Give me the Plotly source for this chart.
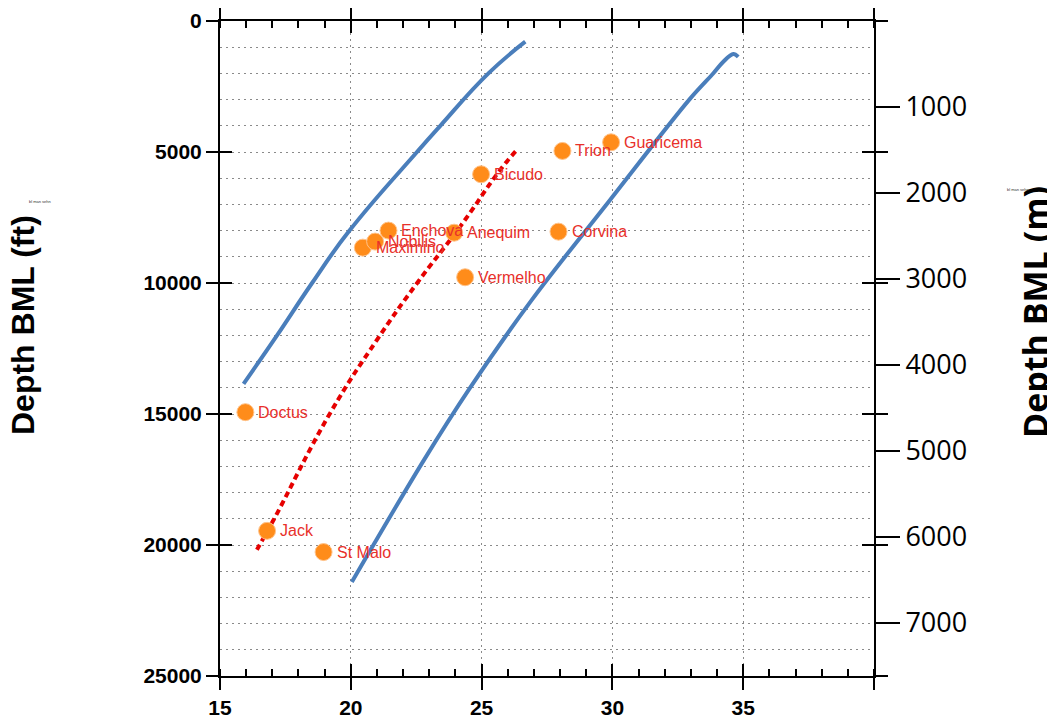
import plotly.graph_objects as go

# ---- data ----
field_names = ["Doctus", "Jack", "St Malo", "Maximino", "Nobilis", "Enchova",
               "Anequim", "Corvina", "Vermelho", "Bicudo", "Trion", "Guaricema"]
field_x = [15.97, 16.8, 18.96, 20.46, 20.93, 21.44, 23.95, 27.94, 24.37, 24.98, 28.09, 29.95]
field_depth_ft = [14930, 19460, 20270, 8650, 8420, 8000, 8080, 8040, 9780, 5850, 4960, 4630]

upper_x = [15.90, 17.18, 18.52, 19.95, 22.53, 23.42, 25.26, 26.67]
upper_y = [13850, 12000, 10000, 8000, 5000, 4000, 2000, 790]

lower_x = [20.04, 22.8, 24.55, 26.92, 29.91, 32.94, 33.86, 34.24, 34.62, 34.81]
lower_y = [21410, 16750, 14013, 10645, 6829, 3000, 1995, 1553, 1260, 1370]

trend_x = [16.41, 17.05, 19.21, 21.0, 22.53, 24.18, 25.71, 26.35]
trend_y = [20183, 19039, 14968, 12171, 10008, 7848, 5685, 4922]

x_tick_vals = [15, 20, 25, 30, 35, 40]
x_tick_text = ["15", "20", "25", "30", "35", ""]
meter_ticks = [1000, 2000, 3000, 4000, 5000, 6000, 7000]
FT_PER_M = 3.28084
X_RANGE = [15, 40]
Y_RANGE_FT = [25000, 0]

BLUE = "#4a7ebb"
RED = "#e60000"
ORANGE = "#ff8c1a"
LABEL_RED = "#e8302a"
GRID = "#8a8a8a"
GRID_DASH = "2px,4px"
ARIAL = "Liberation Sans, Arial, sans-serif"
SANS = "Open Sans, sans-serif"

fig = go.Figure()
fig.add_trace(go.Scatter(x=upper_x, y=upper_y, mode="lines",
                         line=dict(color=BLUE, width=4, shape="spline", smoothing=1.3),
                         hoverinfo="skip"))
fig.add_trace(go.Scatter(x=lower_x, y=lower_y, mode="lines",
                         line=dict(color=BLUE, width=4, shape="spline", smoothing=1.0),
                         hoverinfo="skip"))
fig.add_trace(go.Scatter(x=trend_x, y=trend_y, mode="lines",
                         line=dict(color=RED, width=4, dash="6px,4px", shape="spline", smoothing=1.3),
                         hoverinfo="skip"))
fig.add_trace(go.Scatter(x=field_x, y=field_depth_ft, mode="markers",
                         marker=dict(color=ORANGE, size=17, line=dict(color="#ffc38a", width=1)),
                         text=field_names, hoverinfo="text"))
# dummy traces so the overlay axes are drawn
fig.add_trace(go.Scatter(x=[None], y=[None], yaxis="y2", hoverinfo="skip"))
fig.add_trace(go.Scatter(x=[None], y=[None], xaxis="x3", yaxis="y3", hoverinfo="skip"))

annotations = []
for n, xv, yv in zip(field_names, field_x, field_depth_ft):
    annotations.append(dict(x=xv, y=yv, xref="x", yref="y", text=n, showarrow=False,
                            xanchor="left", yanchor="middle", xshift=11,
                            font=dict(family=ARIAL, size=16, color=LABEL_RED)))

# page offset of the figure (body margin) is 8px; plot area in page pixels:
L, R, T, B = 220, 874, 21, 676
OFF = 8
FIG_W, FIG_H = 1055 - OFF, 718 - OFF
def px(xp):
    return (xp - L) / (R - L)
def py(yp):
    return (B - yp) / (B - T)

annotations += [
    dict(x=px(23), y=py(325), xref="paper", yref="paper", text="Depth BML (ft)",
         showarrow=False, textangle=-90, xanchor="center", yanchor="middle",
         font=dict(family=ARIAL, size=32, color="black", weight="bold")),
    dict(x=px(1035), y=py(312), xref="paper", yref="paper", text="Depth BML (m)",
         showarrow=False, textangle=-90, xanchor="center", yanchor="middle",
         font=dict(family=SANS, size=34, color="black", weight="bold")),
    dict(x=px(27), y=py(197), xref="paper", yref="paper", text="bl man sehn",
         showarrow=False, font=dict(family=ARIAL, size=4, color="#333")),
    dict(x=px(1031), y=py(185), xref="paper", yref="paper", text="bl man sehn",
         showarrow=False, font=dict(family=ARIAL, size=4, color="#333")),
]

tick_font = dict(family=ARIAL, size=21, color="black", weight="bold")

fig.update_layout(
    width=FIG_W, height=FIG_H,
    margin=dict(l=L - OFF, r=FIG_W - (R - OFF), t=T - OFF, b=FIG_H - (B - OFF),
                pad=0, autoexpand=False),
    paper_bgcolor="white", plot_bgcolor="white",
    showlegend=False,
    annotations=annotations,
    xaxis=dict(range=X_RANGE, tickvals=x_tick_vals, ticktext=x_tick_text,
               ticks="outside", ticklen=12, tickwidth=2,
               tickcolor="black", showline=True, linewidth=2, linecolor="black",
               mirror="ticks", showgrid=True, gridcolor=GRID, gridwidth=1, griddash=GRID_DASH,
               zeroline=False, tickfont=tick_font, automargin=False,
               minor=dict(dtick=1, tick0=15, ticks="inside", ticklen=7, tickwidth=2,
                          tickcolor="black", showgrid=False)),
    xaxis3=dict(range=X_RANGE, tickvals=x_tick_vals, ticks="inside", ticklen=12, tickwidth=2,
                tickcolor="black", showline=True, linewidth=2, linecolor="black",
                mirror="ticks", showgrid=False, zeroline=False, showticklabels=False,
                overlaying="x", anchor="y3", automargin=False),
    yaxis=dict(range=Y_RANGE_FT, tick0=0, dtick=5000, tickformat="d",
               ticks="outside", ticklen=12, tickwidth=2,
               tickcolor="black", showline=True, linewidth=2, linecolor="black",
               mirror="ticks", showgrid=True, gridcolor=GRID, gridwidth=1, griddash=GRID_DASH,
               zeroline=False, tickfont=tick_font, automargin=False,
               minor=dict(dtick=1000, tick0=0, ticks="", showgrid=True, gridcolor=GRID,
                          gridwidth=1, griddash=GRID_DASH)),
    yaxis3=dict(range=Y_RANGE_FT, tick0=0, dtick=5000, ticks="inside", ticklen=12, tickwidth=2,
                tickcolor="black", showline=True, linewidth=2, linecolor="black",
                mirror="ticks", showgrid=False, zeroline=False, showticklabels=False,
                overlaying="y", anchor="x3", automargin=False),
    yaxis2=dict(range=[Y_RANGE_FT[0] / FT_PER_M, 0], tickvals=meter_ticks, tickformat="d",
                ticks="outside", ticklen=24, tickwidth=2, tickcolor="black",
                showline=True, linewidth=2, linecolor="black", side="right",
                overlaying="y", anchor="x", showgrid=False, zeroline=False, automargin=False,
                tickfont=dict(family=SANS, size=27, color="black")),
)

fig.write_html("out.html")
